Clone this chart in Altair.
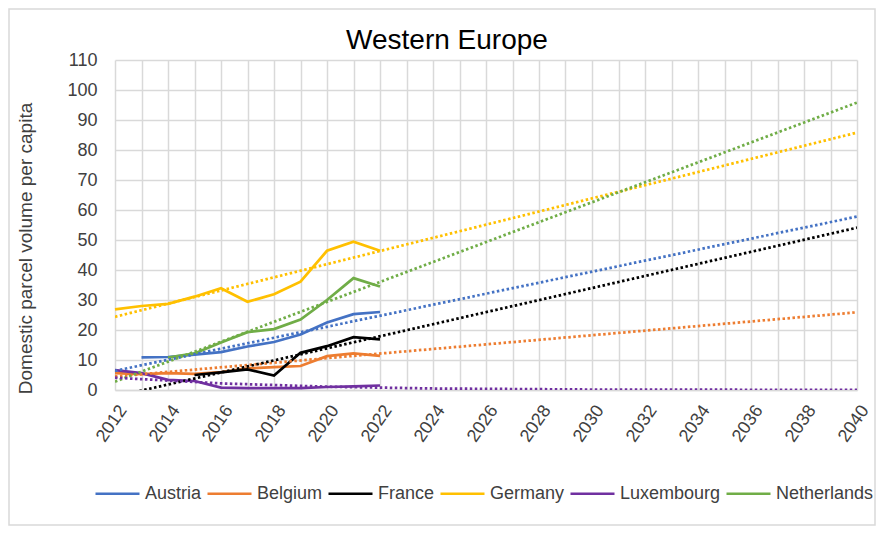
import altair as alt
import pandas as pd

countries = ["Austria", "Belgium", "France", "Germany", "Luxembourg", "Netherlands"]
colors = ["#4472C4", "#ED7D31", "#000000", "#FFC000", "#7030A0", "#70AD47"]

years = list(range(2012, 2023))
austria = [None, 10.9, 11.0, 11.8, 12.6, 14.5, 16.0, 18.5, 22.5, 25.3, 26.0]
belgium = [5.6, 5.3, 5.6, 5.4, 6.0, 7.2, 7.6, 8.0, 11.3, 12.2, 11.4]
france = [None, None, None, 5.0, 5.9, 6.9, 4.8, 12.4, 14.6, 17.6, 16.9]
germany = [26.9, 28.0, 28.7, 31.1, 33.9, 29.4, 31.9, 36.1, 46.4, 49.4, 46.4]
luxembourg = [6.6, 5.6, 3.4, 3.0, 0.8, 0.6, 0.6, 0.6, 1.0, 1.2, 1.5]
netherlands = [None, None, 10.8, 12.2, 15.8, 19.3, 20.3, 23.5, 30.0, 37.3, 34.5]

# Trend lines (dotted)
trend_years_linear = [2012, 2040]
trend_austria = [6.4, 57.8]
trend_belgium = [4.5, 25.9]
trend_france = [-2.2, 54.1]
trend_germany = [24.4, 85.8]
trend_netherlands = [2.8, 95.8]
trend_years_lux = [2012, 2016, 2020, 2024, 2030, 2040]
trend_luxembourg = [4.1, 2.2, 1.1, 0.5, 0.15, 0.03]

series = dict(zip(countries, [austria, belgium, france, germany, luxembourg, netherlands]))
rows = []
for c, vals in series.items():
    for y, v in zip(years, vals):
        if v is not None:
            rows.append({"Year": y, "Value": v, "Country": c})
df = pd.DataFrame(rows)

trows = []
for c, vals in zip(["Austria", "Belgium", "France", "Germany", "Netherlands"],
                   [trend_austria, trend_belgium, trend_france, trend_germany, trend_netherlands]):
    for y, v in zip(trend_years_linear, vals):
        trows.append({"Year": y, "Value": v, "Country": c})
for y, v in zip(trend_years_lux, trend_luxembourg):
    trows.append({"Year": y, "Value": v, "Country": "Luxembourg"})
tdf = pd.DataFrame(trows)

FONT = "Liberation Sans"
GRID = "#d9d9d9"

color = alt.Color("Country:N", scale=alt.Scale(domain=countries, range=colors),
                  legend=alt.Legend(title=None, orient="none", direction="horizontal",
                                    legendX=-21, legendY=410, symbolType="stroke",
                                    symbolSize=1936, symbolStrokeWidth=2.5,
                                    labelFont=FONT, labelFontSize=18, labelColor="#404040",
                                    labelOffset=4, columnPadding=0, symbolOffset=0))

x = alt.X("Year:Q", scale=alt.Scale(domain=[2012, 2040], nice=False, zero=False),
          axis=alt.Axis(title=None, values=list(range(2012, 2041)),
                        labelExpr="datum.value % 2 === 0 ? '' + datum.value : ''",
                        labelAngle=-55, labelAlign="right", labelBaseline="middle",
                        labelPadding=17, labelOffset=8, labelOverlap=False, labelFlush=False,
                        ticks=False, grid=True, gridColor=GRID, gridWidth=1.5,
                        domainColor=GRID, domainWidth=1.5,
                        labelFont=FONT, labelFontSize=18, labelColor="#404040"))
y = alt.Y("Value:Q", scale=alt.Scale(domain=[0, 110], nice=False),
          axis=alt.Axis(title="Domestic parcel volume per capita", values=list(range(0, 111, 10)),
                        ticks=False, grid=True, gridColor=GRID, gridWidth=1.5,
                        domain=False, labelPadding=18,
                        labelFont=FONT, labelFontSize=18, labelColor="#404040",
                        titleFont=FONT, titleFontSize=19, titleFontWeight="normal",
                        titleColor="#404040", titleX=-80, titleY=188, titleAngle=-90,
                        titleAlign="center", titleBaseline="bottom"))

frame = alt.Chart(pd.DataFrame({"k": [0]})).mark_rect(
    fill=None, stroke=GRID, strokeWidth=1.5, clip=False
).encode(x=alt.value(-106), x2=alt.value(760), y=alt.value(-51), y2=alt.value(465))

solid = alt.Chart(df).mark_line(strokeWidth=2.75).encode(x=x, y=y, color=color, detail="Country:N")
trend = alt.Chart(tdf).mark_line(strokeWidth=2.75, strokeDash=[2.5, 2.5], clip=True).encode(
    x=x, y=y, color=color, detail="Country:N")

chart = alt.layer(frame, solid, trend).properties(
    width=742, height=330,
    title=alt.TitleParams("Western Europe", font=FONT, fontSize=28, fontWeight="normal",
                          color="#000000", anchor="middle", frame="group", dx=-39,
                          baseline="bottom", offset=-75),
    autosize=alt.AutoSizeParams(type="none"),
    padding={"left": 107, "top": 52, "right": 19, "bottom": 136},
).configure_view(stroke=None)

chart.save("out.html", embed_options={"renderer": "svg", "actions": False})
